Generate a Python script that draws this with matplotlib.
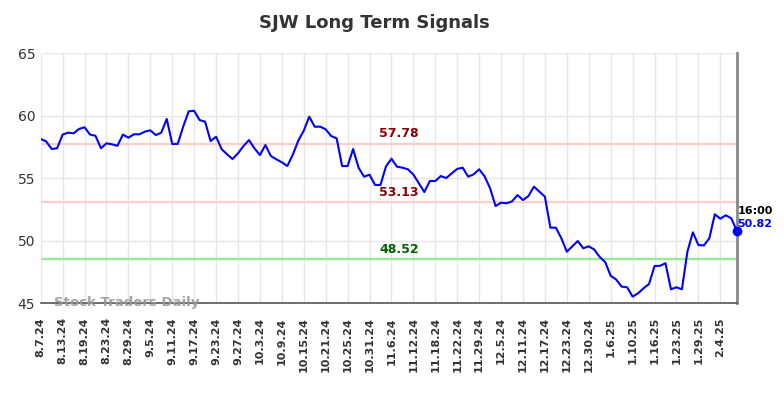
import numpy as np
import matplotlib
matplotlib.use("Agg")
import matplotlib.pyplot as plt

# closing prices, one per trading day (8.7.24 .. 2.7.25)
prices = [
    58.15, 57.95, 57.35, 57.40, 58.50, 58.65, 58.60, 58.95, 59.08, 58.50,
    58.40, 57.40, 57.80, 57.72, 57.60, 58.50, 58.25, 58.52, 58.52, 58.73,
    58.84, 58.46, 58.65, 59.75, 57.75, 57.75, 59.13, 60.36, 60.40, 59.66,
    59.53, 57.98, 58.33, 57.34, 56.92, 56.54, 57.00, 57.58, 58.06, 57.40,
    56.86, 57.66, 56.78, 56.52, 56.28, 55.98, 56.89, 58.01, 58.81, 59.93,
    59.13, 59.13, 58.92, 58.38, 58.20, 55.98, 55.98, 57.34, 55.85, 55.13,
    55.29, 54.47, 54.47, 55.95, 56.57, 55.93, 55.85, 55.72, 55.30, 54.60,
    53.90, 54.78, 54.78, 55.18, 55.02, 55.40, 55.75, 55.85, 55.13, 55.32,
    55.72, 55.15, 54.20, 52.78, 53.05, 53.00, 53.15, 53.66, 53.26, 53.58,
    54.33, 53.93, 53.53, 51.05, 51.05, 50.20, 49.13, 49.55, 49.98, 49.40,
    49.56, 49.30, 48.70, 48.30, 47.20, 46.90, 46.33, 46.28, 45.53, 45.80,
    46.20, 46.54, 47.98, 48.00, 48.20, 46.12, 46.28, 46.12, 49.13, 50.68,
    49.66, 49.63, 50.20, 52.12, 51.77, 52.04, 51.80, 50.82,
]

tick_labels = [
    "8.7.24", "8.13.24", "8.19.24", "8.23.24", "8.29.24", "9.5.24", "9.11.24",
    "9.17.24", "9.23.24", "9.27.24", "10.3.24", "10.9.24", "10.15.24", "10.21.24",
    "10.25.24", "10.31.24", "11.6.24", "11.12.24", "11.18.24", "11.22.24",
    "11.29.24", "12.5.24", "12.11.24", "12.17.24", "12.23.24", "12.30.24",
    "1.6.25", "1.10.25", "1.16.25", "1.23.25", "1.29.25", "2.4.25",
]

upper_line = 57.78
mid_line = 53.13
lower_line = 48.52
last_time = "16:00"

x = np.arange(len(prices))
fig = plt.figure(figsize=(7.84, 3.98), dpi=100)
ax = fig.add_axes([0.0519, 0.238, 0.8878, 0.628])

ax.plot(x, prices, color="#0000ff", lw=1.5, zorder=3)
ax.plot(x[-1], prices[-1], "o", color="#0000ff", ms=6, zorder=5, clip_on=False)

ax.axhline(upper_line, color="#ffcccc", lw=1.6, zorder=2)
ax.axhline(mid_line, color="#ffcccc", lw=1.6, zorder=2)
ax.axhline(lower_line, color="#90ee90", lw=1.6, zorder=2)

xm = 65.4
ax.text(xm, upper_line + 0.25, "%.2f" % upper_line, color="#8b0000",
        fontsize=9, fontweight="bold", ha="center", va="bottom")
ax.text(xm, mid_line + 0.25, "%.2f" % mid_line, color="#8b0000",
        fontsize=9, fontweight="bold", ha="center", va="bottom")
ax.text(xm, lower_line + 0.25, "%.2f" % lower_line, color="#006400",
        fontsize=9, fontweight="bold", ha="center", va="bottom")

ax.text(len(prices) - 1 + 0.1, prices[-1] + 1.55, last_time, color="black",
        fontsize=8, fontweight="bold", ha="left", va="center")
ax.text(len(prices) - 1 + 0.1, prices[-1] + 0.5, "%.2f" % prices[-1],
        color="#0000ff", fontsize=8, fontweight="bold", ha="left", va="center")

ax.text(2.5, 45.05, "Stock Traders Daily", color="#999999", fontsize=9.5,
        fontweight="bold", ha="left", va="center", alpha=0.9)

ax.set_xlim(0, len(prices) - 1)
ax.set_ylim(45, 65)
ax.set_yticks([45, 50, 55, 60, 65])
ax.set_xticks(x[::4])
ax.set_xticklabels(tick_labels, rotation=90, fontsize=8, fontweight="bold",
                   color="#333333")
ax.tick_params(axis="y", labelsize=10, colors="#333333", length=0, pad=4)
ax.tick_params(axis="x", length=0, pad=10)
ax.grid(True, color="#e6e6e6", lw=1)
ax.set_axisbelow(True)

for s in ["top", "left"]:
    ax.spines[s].set_visible(False)
ax.spines["right"].set_color("#888888")
ax.spines["right"].set_linewidth(2)
ax.spines["bottom"].set_color("#555555")
ax.spines["bottom"].set_linewidth(1.2)

fig.suptitle("SJW Long Term Signals", x=0.477, y=0.965, fontsize=13,
             fontweight="bold", color="#333333")

fig.savefig("out.png", dpi=100)
